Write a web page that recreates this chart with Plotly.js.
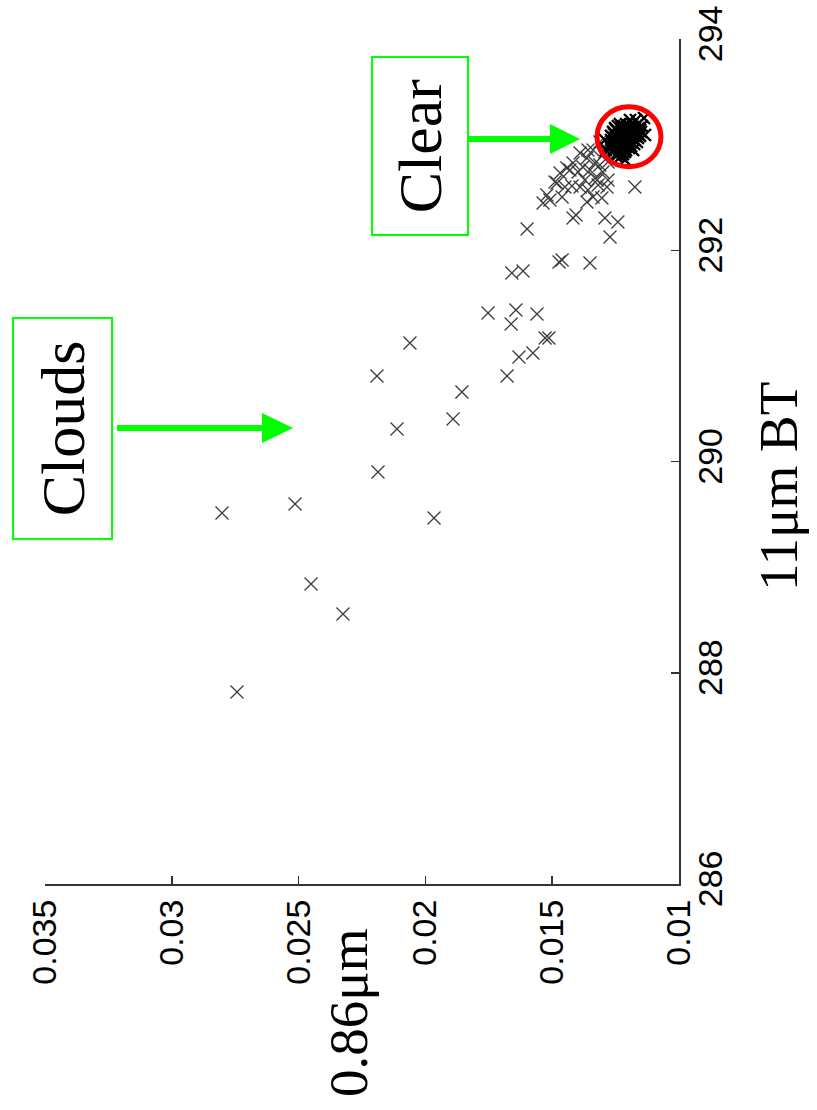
<!DOCTYPE html>
<html>
<head>
<meta charset="utf-8">
<script src="https://cdn.plot.ly/plotly-3.0.1.min.js"></script>
<style>
  html, body { margin: 0; padding: 0; background: #fff; }
  #chart { width: 817px; height: 1110px; }
</style>
</head>
<body>
<div id="chart"></div>
<script>
// Pixels spread away from the clear-sky cluster (cloud-contaminated)
const cloudRefl = [
  0.02802, 0.02743, 0.02514, 0.02451, 0.02325, 0.02191, 0.02187, 0.02112, 0.02061, 0.01966,
  0.01891, 0.01856, 0.01753, 0.01678, 0.01662, 0.01643, 0.01631, 0.01576, 0.01560, 0.01528,
  0.01513, 0.01659, 0.01615, 0.01599, 0.01461, 0.01473, 0.01351, 0.01418, 0.01406, 0.01292,
  0.01241, 0.01272, 0.01536, 0.01509, 0.01461, 0.01363, 0.01304, 0.01521, 0.01481, 0.01450,
  0.01422, 0.01390, 0.01359, 0.01339, 0.01319, 0.01284, 0.01174, 0.01489, 0.01469, 0.01442,
  0.01418, 0.01390, 0.01363, 0.01398, 0.01351, 0.01312, 0.01300, 0.01331, 0.01371, 0.01280,
  0.01323, 0.01430, 0.01359, 0.01339, 0.01312, 0.01379, 0.01331, 0.01280, 0.01292
];
const cloudBT = [
  289.512, 287.818, 289.598, 288.840, 288.556, 290.810, 289.901, 290.308, 291.122, 289.465,
  290.402, 290.658, 291.406, 290.810, 291.302, 291.434, 290.989, 291.027, 291.396, 291.169,
  291.169, 291.785, 291.804, 292.201, 291.908, 291.889, 291.879, 292.305, 292.334, 292.305,
  292.268, 292.126, 292.447, 292.476, 292.504, 292.457, 292.495, 292.523, 292.637, 292.599,
  292.608, 292.599, 292.570, 292.504, 292.618, 292.599, 292.599, 292.646, 292.731, 292.779,
  292.826, 292.921, 292.873, 292.741, 292.760, 292.807, 292.741, 292.684, 292.665, 292.665,
  292.665, 292.760, 292.949, 292.949, 293.025, 292.788, 292.826, 292.836, 292.930
];

// Dense clear-sky cluster
const clearRefl = [
  0.01193, 0.01170,
  0.01233, 0.01209, 0.01185, 0.01162,
  0.01252, 0.01229, 0.01205, 0.01181, 0.01158,
  0.01260, 0.01237, 0.01213, 0.01189, 0.01166, 0.01150,
  0.01268, 0.01245, 0.01221, 0.01197, 0.01174, 0.01154,
  0.01268, 0.01245, 0.01221, 0.01197, 0.01174,
  0.01272, 0.01248, 0.01225, 0.01201, 0.01177,
  0.01268, 0.01245, 0.01221, 0.01197,
  0.01260, 0.01237, 0.01213,
  0.01248, 0.01229,
  0.01138, 0.01146, 0.01288, 0.01292, 0.01213, 0.01181, 0.01134,
  0.01241, 0.01217, 0.01193, 0.01170,
  0.01248, 0.01225, 0.01201, 0.01177, 0.01154,
  0.01256, 0.01233, 0.01209, 0.01185, 0.01162,
  0.01256, 0.01233, 0.01209, 0.01185, 0.01162,
  0.01260, 0.01237, 0.01213, 0.01189, 0.01166,
  0.01260, 0.01237, 0.01213, 0.01189,
  0.01256, 0.01233, 0.01209,
  0.01245, 0.01221
];
const clearBT = [
  293.233, 293.233,
  293.195, 293.195, 293.195, 293.195,
  293.157, 293.157, 293.157, 293.157, 293.157,
  293.120, 293.120, 293.120, 293.120, 293.120, 293.120,
  293.082, 293.082, 293.082, 293.082, 293.082, 293.082,
  293.044, 293.044, 293.044, 293.044, 293.044,
  293.006, 293.006, 293.006, 293.006, 293.006,
  292.968, 292.968, 292.968, 292.968,
  292.930, 292.930, 292.930,
  292.892, 292.892,
  293.252, 293.176, 292.949, 293.044, 292.855, 292.949, 293.091,
  293.176, 293.176, 293.176, 293.176,
  293.139, 293.139, 293.139, 293.139, 293.139,
  293.101, 293.101, 293.101, 293.101, 293.101,
  293.063, 293.063, 293.063, 293.063, 293.063,
  293.025, 293.025, 293.025, 293.025, 293.025,
  292.987, 292.987, 292.987, 292.987,
  292.949, 292.949, 292.949,
  292.911, 292.911
];

const reflTicks = [0.01, 0.015, 0.02, 0.025, 0.03, 0.035];
const reflTickText = ['0.01', '0.015', '0.02', '0.025', '0.03', '0.035'];
const btTicks = [286, 288, 290, 292, 294];
const btTickText = ['286', '288', '290', '292', '294'];

const green = '#00ff00';

const traces = [
  { type: 'scatter', mode: 'markers', x: cloudRefl, y: cloudBT,
    marker: { symbol: 'x-thin', size: 13, line: { color: '#3c3c3c', width: 1.3 } }, hoverinfo: 'x+y', name: 'cloudy' },
  { type: 'scatter', mode: 'markers', x: clearRefl, y: clearBT,
    marker: { symbol: 'x-thin', size: 12, line: { color: '#000', width: 2.4 } }, hoverinfo: 'x+y', name: 'clear' }
];

const tickFont = { family: 'Liberation Sans, Arial, sans-serif', size: 34, color: '#000' };
const serif = 'Liberation Serif, Times New Roman, serif';

const layout = {
  width: 817, height: 1110,
  margin: { l: 45, r: 138, t: 39, b: 226 },
  paper_bgcolor: '#fff', plot_bgcolor: '#fff',
  showlegend: false,
  xaxis: {
    range: [0.035, 0.01], tickvals: reflTicks, ticktext: reflTickText,
    tickangle: -90, ticks: 'inside', ticklen: 8, tickwidth: 1.5, tickcolor: '#333',
    showline: true, linecolor: '#333', linewidth: 2,
    showgrid: false, zeroline: false, tickfont: tickFont
  },
  yaxis: {
    side: 'right', range: [286, 294], tickvals: btTicks, ticktext: btTickText,
    tickangle: -90, ticks: 'inside', ticklen: 8, tickwidth: 1.5, tickcolor: '#333',
    showline: true, linecolor: '#333', linewidth: 2,
    showgrid: false, zeroline: false, tickfont: tickFont
  },
  shapes: [
    // circle around the clear-sky cluster
    { type: 'circle', xref: 'x', yref: 'y', x0: 0.013233, x1: 0.010710, y0: 292.790, y1: 293.358,
      line: { color: '#ff0000', width: 5 } },
    // arrow to the clear cluster
    { type: 'line', xref: 'x', yref: 'y', x0: 0.018281, x1: 0.015087, y0: 293.053, y1: 293.053,
      line: { color: green, width: 6 } },
    { type: 'path', xref: 'x', yref: 'y', path: 'M 0.015087,293.195 L 0.013904,293.053 L 0.015087,292.911 Z',
      fillcolor: green, line: { color: green, width: 0 } },
    // arrow to the cloudy pixels
    { type: 'line', xref: 'x', yref: 'y', x0: 0.032161, x1: 0.026443, y0: 290.317, y1: 290.317,
      line: { color: green, width: 6 } },
    { type: 'path', xref: 'x', yref: 'y', path: 'M 0.026443,290.459 L 0.025221,290.317 L 0.026443,290.175 Z',
      fillcolor: green, line: { color: green, width: 0 } }
  ],
  annotations: [
    { text: 'Clouds', xref: 'paper', yref: 'paper', x: 0.0276, y: 0.5391, xanchor: 'center', yanchor: 'middle',
      showarrow: false, textangle: -90, font: { family: serif, size: 62, color: '#000' },
      bordercolor: green, borderwidth: 2, borderpad: 0, width: 219, height: 97 },
    { text: 'Clear', xref: 'paper', yref: 'paper', x: 0.5915, y: 0.8734, xanchor: 'center', yanchor: 'middle',
      showarrow: false, textangle: -90, font: { family: serif, size: 62, color: '#000' },
      bordercolor: green, borderwidth: 2, borderpad: 0, width: 176, height: 94 },
    { text: '11μm BT', xref: 'paper', yref: 'paper', x: 1.156, y: 0.471, xanchor: 'center', yanchor: 'middle',
      showarrow: false, textangle: -90, font: { family: serif, size: 55, color: '#000' } },
    { text: '0.86μm', xref: 'paper', yref: 'paper', x: 0.478, y: -0.1527, xanchor: 'center', yanchor: 'middle',
      showarrow: false, textangle: -90, font: { family: serif, size: 55, color: '#000' } }
  ]
};

Plotly.newPlot('chart', traces, layout, { staticPlot: true, displayModeBar: false });
</script>
</body>
</html>
